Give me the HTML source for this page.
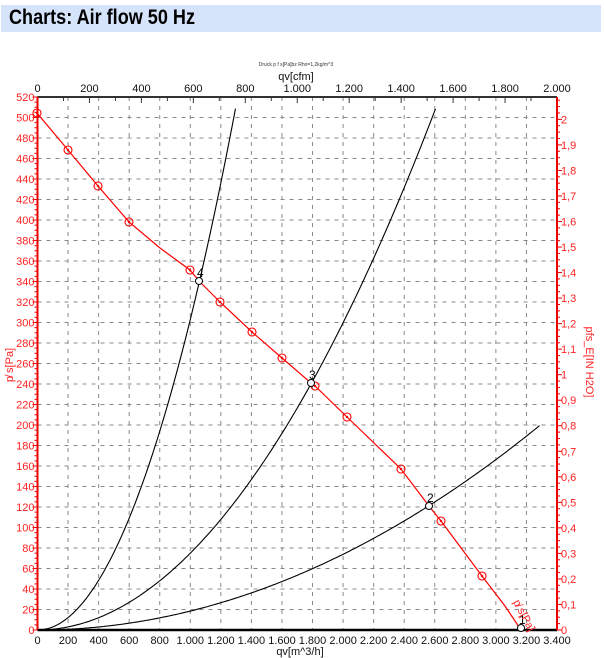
<!DOCTYPE html>
<html><head><meta charset="utf-8"><style>
html,body{margin:0;padding:0;background:#fff;width:604px;height:658px;overflow:hidden}
#t{position:absolute;left:1px;top:5px;width:600px;height:27px;background:#d6e4fb}
#t span{position:absolute;left:8px;top:1px;font:bold 21px "Liberation Sans",sans-serif;color:#000;transform:scaleX(0.86);transform-origin:0 0;white-space:nowrap}
svg{position:absolute;left:0;top:0}
</style></head><body>
<div id="t"><span>Charts: Air flow 50 Hz</span></div>
<svg id="s" width="604" height="658" xmlns="http://www.w3.org/2000/svg" font-family="Liberation Sans, sans-serif"></svg>
<script>
var s=document.getElementById('s'),h='';
var L=37.5,R=557,T=97,B=630;
function X(q){return L+q*(R-L)/3400}
function Y(p){return B-p*(B-T)/520}
function fmt(n){return n>=1000?Math.floor(n/1000)+'.'+String(n%1000).padStart(3,'0'):String(n)}
for(var q=200;q<3400;q+=200)h+='<line x1="'+X(q)+'" y1="'+T+'" x2="'+X(q)+'" y2="'+B+'" stroke="#888" stroke-dasharray="4,5"/>';
for(var p=20;p<520;p+=20)h+='<line x1="'+L+'" y1="'+Y(p)+'" x2="'+R+'" y2="'+Y(p)+'" stroke="#888" stroke-dasharray="4,5"/>';
for(var q=0;q<=3400;q+=200)h+='<text x="'+X(q)+'" y="644" font-size="11" text-anchor="middle" fill="#111">'+fmt(q)+'</text>';
h+='<text x="300" y="655" font-size="11" text-anchor="middle" fill="#111">qv[m^3/h]</text>';
for(var c=0;c<=2000;c+=100){var x=L+c*(R-L)/2000;h+='<line x1="'+x+'" y1="'+T+'" x2="'+x+'" y2="'+(T+(c%200?4:6))+'" stroke="#333"/>';if(c%200==0)h+='<text x="'+x+'" y="92" font-size="11" text-anchor="middle" fill="#111">'+fmt(c)+'</text>';}
h+='<text x="296" y="80" font-size="11" text-anchor="middle" fill="#111">qv[cfm]</text>';
h+='<text x="296" y="66" font-size="5" text-anchor="middle" fill="#333">Druck p f s[Pa]bz Rho=1,2kg/m^3</text>';
for(var p=0;p<=520;p+=5){var y=Y(p);h+='<line x1="'+(L-(p%20?3:5))+'" y1="'+y+'" x2="'+L+'" y2="'+y+'" stroke="#e00"/>';if(p%20==0)h+='<text x="'+(L-3)+'" y="'+(y+4)+'" font-size="11" text-anchor="end" fill="#f22">'+p+'</text>';}
h+='<text transform="translate(13,365) rotate(-90)" font-size="11" text-anchor="middle" fill="#f22">p̸ s[Pa]</text>';
for(var i=0;i<=84;i++){var v=i*0.025,y=Y(v*249.09);if(y<T)break;h+='<line x1="'+R+'" y1="'+y+'" x2="'+(R+(i%4?3:5))+'" y2="'+y+'" stroke="#e00"/>';if(i%4==0){var lab=(i/40).toString().replace('.',',');h+='<text x="'+(R+4)+'" y="'+(y+4)+'" font-size="11" fill="#f22">'+lab+'</text>';}}
h+='<text transform="translate(586,362) rotate(90)" font-size="11" text-anchor="middle" fill="#f22">pfs_E[IN H2O]</text>';
h+='<line x1="'+L+'" y1="'+T+'" x2="'+R+'" y2="'+T+'" stroke="#333" stroke-width="2"/>';
h+='<line x1="'+L+'" y1="'+B+'" x2="'+R+'" y2="'+B+'" stroke="#000" stroke-width="2.5"/>';
h+='<line x1="'+L+'" y1="'+T+'" x2="'+L+'" y2="'+B+'" stroke="#e00" stroke-width="2"/>';
h+='<line x1="'+R+'" y1="'+T+'" x2="'+R+'" y2="'+B+'" stroke="#e00" stroke-width="2"/>';
function par(k,xe){var d='';for(var x=L;x<=xe;x+=2){d+=(d?'L':'M')+x.toFixed(1)+','+(B-k*(x-L)*(x-L)).toFixed(1)}return '<path d="'+d+'" fill="none" stroke="#000" stroke-width="1.1"/>'}
h+=par(0.0133,236)+par(0.00329,437)+par(0.000811,540);
var pts=[[37,113],[68,150],[98,186],[129,222],[160,248],[190,270],[199,281],[220,302],[252,332],[282,358],[311,383],[315,386],[347,417],[401,469],[429,506],[441,521],[482,576],[505,606],[521,630]];
h+='<polyline points="'+pts.map(function(p){return p.join(',')}).join(' ')+'" fill="none" stroke="#f00" stroke-width="1.2"/>';
[[37,113],[68,150],[98,186],[129,222],[190,270],[220,302],[252,332],[282,358],[315,386],[347,417],[401,469],[441,521],[482,576]].forEach(function(p){h+='<circle cx="'+p[0]+'" cy="'+p[1]+'" r="4" fill="none" stroke="#f00" stroke-width="1.1"/><circle cx="'+p[0]+'" cy="'+p[1]+'" r="1.2" fill="#f00"/>'});
[[199,281,'4'],[311,383,'3'],[429,506,'2'],[521,628,'1']].forEach(function(p){h+='<circle cx="'+p[0]+'" cy="'+p[1]+'" r="3.5" fill="#fff" stroke="#000"/><text x="'+(p[0]-2)+'" y="'+(p[1]-4)+'" font-size="12" fill="#000">'+p[2]+'</text>'});
h+='<text transform="translate(513,602) rotate(62)" font-size="11" fill="#f22">p̸ s[Pa]</text>';
s.innerHTML=h;
</script>
</body></html>
